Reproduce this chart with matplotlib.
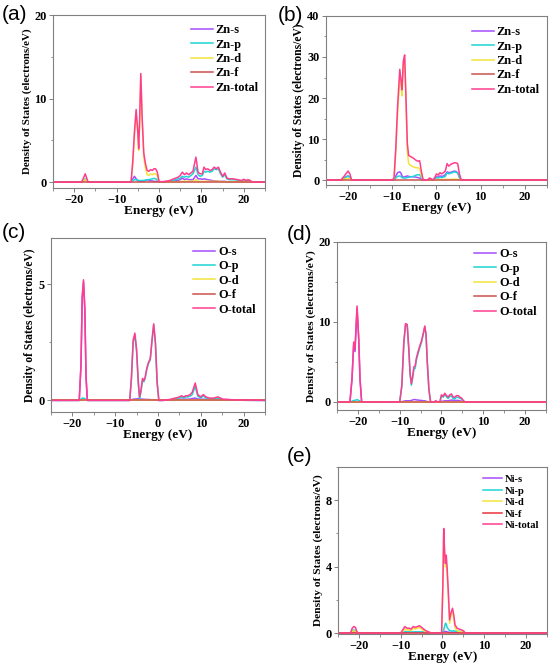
import matplotlib
matplotlib.use("Agg")
import matplotlib.pyplot as plt
from matplotlib.ticker import MultipleLocator

# ---------------- data ----------------
# (a) Zn
E_a = [-25, -18.3, -17.8, -17.4, -17.0, -16.7, -6.6, -6.2, -5.8, -5.4, -5.0, -4.8, -4.6, -4.3, -4.0, -3.6,
       -3.2, -2.8, -2.4, -2.0, -1.6, -1.2, -0.8, -0.4, 0.0, 0.5, 1.5, 2.5, 3.5, 4.0, 4.5, 5.0, 5.5, 6.0,
       6.5, 7.0, 7.5, 8.0, 8.7, 9.2, 9.7, 10.2, 10.6, 11.0, 11.5, 12.0, 12.5, 13.0, 13.5, 14.0, 14.5, 15.0,
       15.5, 16.0, 16.5, 17.5, 18.5, 19.5, 20.0, 20.5, 21.0, 21.5, 22.0, 25]
a_total = [0, 0, 0.5, 1.0, 0.4, 0, 0, 2.5, 6.0, 8.7, 6.0, 4.0, 7.0, 13.0, 8.0, 3.5,
           2.2, 1.4, 1.3, 1.5, 1.4, 1.6, 1.6, 1.2, 0.1, 0.05, 0.1, 0.2, 0.4, 0.5, 0.6, 0.8, 1.2, 0.9,
           1.1, 0.9, 1.1, 1.3, 3.0, 1.2, 1.0, 1.0, 1.8, 1.5, 1.6, 1.4, 1.5, 1.8, 1.6, 1.8, 1.2, 0.7,
           1.1, 0.5, 0.4, 0.4, 0.3, 0.2, 0.35, 0.2, 0.3, 0.2, 0.0, 0]
a_d = [0, 0, 0.15, 0.3, 0.1, 0, 0, 2.0, 5.5, 8.3, 5.7, 3.8, 6.7, 12.7, 7.6, 3.0,
       1.7, 0.9, 0.8, 1.0, 0.9, 1.0, 1.0, 0.7, 0.05, 0.02, 0.03, 0.05, 0.05, 0.05, 0.05, 0.1, 0.1, 0.1,
       0.1, 0.1, 0.1, 0.1, 0.3, 0.1, 0.1, 0.1, 0.1, 0.1, 0.1, 0.1, 0.1, 0.1, 0.1, 0.1, 0.1, 0.05,
       0.05, 0.05, 0.05, 0.05, 0.05, 0.05, 0.05, 0.05, 0.05, 0.05, 0.0, 0]
a_p = [0, 0, 0.2, 0.4, 0.15, 0, 0, 0.2, 0.3, 0.3, 0.25, 0.2, 0.2, 0.2, 0.2, 0.2,
       0.25, 0.3, 0.3, 0.35, 0.4, 0.45, 0.4, 0.3, 0.0, 0.02, 0.05, 0.1, 0.25, 0.3, 0.4, 0.5, 0.7, 0.6,
       0.7, 0.6, 0.8, 1.0, 1.8, 0.9, 0.7, 0.8, 1.3, 1.2, 1.3, 1.2, 1.3, 1.6, 1.5, 1.6, 1.0, 0.6,
       0.9, 0.4, 0.3, 0.3, 0.25, 0.15, 0.3, 0.15, 0.25, 0.15, 0.0, 0]
a_s = [0, 0, 0.12, 0.25, 0.1, 0, 0, 0.4, 0.7, 0.4, 0.15, 0.1, 0.1, 0.1, 0.1, 0.1,
       0.2, 0.3, 0.2, 0.15, 0.15, 0.1, 0.1, 0.1, 0.0, 0.02, 0.05, 0.1, 0.15, 0.2, 0.2, 0.3, 0.5, 0.3,
       0.4, 0.3, 0.3, 0.3, 0.8, 0.4, 0.4, 0.35, 0.4, 0.35, 0.3, 0.25, 0.2, 0.15, 0.15, 0.1, 0.1, 0.1,
       0.1, 0.05, 0.05, 0.05, 0.05, 0.05, 0.05, 0.05, 0.05, 0.05, 0.0, 0]
a_f = [0] * len(E_a)

# (b) Zn
E_b = [-25, -21.6, -21.0, -20.5, -20.0, -19.6, -19.2, -10.0, -9.6, -9.2, -8.8, -8.3, -8.0, -7.8, -7.5, -7.2,
       -6.9, -6.6, -6.3, -5.8, -5.2, -4.6, -4.2, -3.8, -3.4, -3.0, -2.0, -1.6, -1.2, -0.8, -0.4, 0.0,
       0.4, 0.8, 1.2, 1.6, 2.0, 2.4, 2.8, 3.2, 3.6, 4.0, 4.4, 4.8, 5.2, 5.6, 25]
b_total = [0, 0, 0.8, 1.5, 2.2, 1.5, 0, 0, 0.5, 8, 18, 27, 24, 22, 29, 30.5,
           20, 9, 6, 5.7, 5.3, 4.8, 4.6, 4.7, 2, 0, 0, 0.5, 0.3, 0, 0.6, 1.5,
           1.2, 1.8, 1.5, 1.8, 2.2, 4.0, 3.4, 3.8, 4.0, 4.2, 4.2, 4.0, 1.5, 0, 0]
b_d = [0, 0, 0.2, 0.3, 0.4, 0.3, 0, 0, 0.3, 7, 16, 25, 22.5, 20.5, 28, 29.5,
       19, 7, 4, 3.5, 3.2, 3.0, 3.0, 2.8, 1.0, 0, 0, 0.05, 0.05, 0, 0.05, 0.1,
       0.1, 0.1, 0.1, 0.1, 0.15, 0.2, 0.15, 0.15, 0.2, 0.2, 0.2, 0.2, 0.1, 0, 0]
b_s = [0, 0, 0.4, 0.8, 1.0, 0.7, 0, 0, 0.1, 1.0, 1.8, 2.0, 1.6, 1.0, 0.7, 0.8,
       0.9, 1.0, 0.9, 0.8, 0.8, 0.7, 0.6, 0.5, 0.2, 0, 0, 0.3, 0.2, 0, 0.3, 0.8,
       0.7, 1.0, 0.9, 1.0, 1.3, 2.0, 1.8, 1.9, 2.0, 2.2, 2.1, 1.8, 0.7, 0, 0]
b_p = [0, 0, 0.4, 0.7, 1.0, 0.6, 0, 0, 0.1, 0.5, 0.9, 1.0, 0.8, 0.6, 0.5, 0.5,
       0.5, 0.6, 0.7, 0.8, 0.9, 1.2, 1.3, 1.3, 0.6, 0, 0, 0.2, 0.1, 0, 0.2, 0.6,
       0.5, 0.7, 0.6, 0.7, 0.9, 1.8, 1.5, 1.7, 1.8, 2.0, 1.9, 1.7, 0.6, 0, 0]
b_f = [0] * len(E_b)

# (c) O
E_c = [-25, -18.4, -18.0, -17.7, -17.4, -17.1, -16.8, -16.5, -6.6, -6.2, -5.8, -5.4, -5.0, -4.6, -4.3,
       -4.0, -3.6, -3.3, -3.0, -2.6, -2.2, -1.8, -1.4, -1.0, -0.6, -0.2, 0.2, 1.0, 2.0, 3.0, 4.0, 4.5,
       5.0, 5.5, 6.0, 6.5, 7.0, 7.5, 8.0, 8.7, 9.3, 10.0, 10.6, 11.2, 12.0, 13.0, 14.0, 14.6, 15.2,
       16.0, 17.0, 19.0, 21.0, 23.0, 25]
c_total = [0, 0, 1.5, 4.5, 5.2, 4.0, 1.0, 0, 0, 1.0, 2.6, 2.9, 2.2, 0.8, 0.15,
           0.4, 0.95, 0.85, 1.0, 1.4, 1.65, 1.8, 2.6, 3.3, 2.5, 0.8, 0.0, 0.0, 0.02, 0.05, 0.1, 0.12,
           0.15, 0.2, 0.15, 0.2, 0.2, 0.25, 0.35, 0.75, 0.25, 0.15, 0.25, 0.15, 0.1, 0.1, 0.15, 0.1, 0.05,
           0.05, 0.03, 0.02, 0.02, 0.01, 0]
c_p = [0, 0, 0.05, 0.1, 0.1, 0.08, 0.02, 0, 0, 0.95, 2.5, 2.8, 2.1, 0.7, 0.05,
       0.35, 0.9, 0.8, 0.95, 1.35, 1.6, 1.75, 2.55, 3.25, 2.45, 0.75, 0.0, 0.0, 0.01, 0.03, 0.06, 0.08,
       0.1, 0.15, 0.1, 0.15, 0.15, 0.18, 0.25, 0.6, 0.18, 0.1, 0.2, 0.1, 0.07, 0.07, 0.1, 0.07, 0.03,
       0.03, 0.02, 0.01, 0.01, 0.0, 0]
c_s = [0, 0, 1.45, 4.4, 5.1, 3.9, 0.95, 0, 0, 0.03, 0.05, 0.06, 0.06, 0.08, 0.08,
       0.06, 0.05, 0.05, 0.04, 0.04, 0.04, 0.03, 0.03, 0.03, 0.02, 0.01, 0, 0, 0.01, 0.02, 0.03, 0.04,
       0.05, 0.05, 0.05, 0.05, 0.05, 0.06, 0.08, 0.1, 0.06, 0.05, 0.05, 0.04, 0.03, 0.03, 0.04, 0.03, 0.02,
       0.02, 0.01, 0.01, 0.0, 0.0, 0]
c_d = [0] * len(E_c)
c_f = [0] * len(E_c)

# (d) O
E_d = [-25, -21.9, -21.4, -21.0, -20.7, -20.2, -19.8, -19.5, -19.1, -10.0, -9.5, -9.0, -8.6, -8.2, -7.8,
       -7.5, -7.2, -6.9, -6.6, -6.3, -6.0, -5.6, -5.2, -4.8, -4.4, -4.0, -3.7, -3.4, -3.0, -2.6, -1.8,
       -1.4, -1.0, -0.4, 0.0, 0.4, 0.8, 1.2, 1.6, 2.0, 2.4, 2.8, 3.2, 3.6, 4.0, 4.4, 4.8, 5.2, 5.6, 25]
d_total = [0, 0, 3, 7.5, 6.5, 12, 8, 3, 0, 0, 2, 7.5, 9.8, 9.7, 6.5,
           3.5, 2.3, 3.2, 4.4, 4.5, 5.5, 6.3, 7.0, 7.6, 8.5, 9.5, 8.5, 5, 1.5, 0, 0,
           0.15, 0.05, 0.0, 0.9, 0.7, 1.1, 0.8, 0.6, 0.9, 1.0, 0.6, 0.6, 0.8, 0.8, 0.6, 0.5, 0.2, 0, 0]
d_s = [0, 0, 2.9, 7.3, 6.3, 11.7, 7.8, 2.9, 0, 0, 0.05, 0.1, 0.15, 0.15, 0.15,
       0.15, 0.2, 0.25, 0.3, 0.3, 0.25, 0.25, 0.2, 0.2, 0.15, 0.15, 0.1, 0.05, 0.02, 0, 0,
       0.05, 0.02, 0, 0.1, 0.1, 0.15, 0.15, 0.15, 0.2, 0.25, 0.2, 0.2, 0.2, 0.2, 0.15, 0.1, 0.05, 0, 0]
d_p = [0, 0, 0.1, 0.2, 0.2, 0.3, 0.2, 0.1, 0, 0, 1.95, 7.4, 9.65, 9.55, 6.35,
       3.35, 2.1, 2.95, 4.1, 4.2, 5.25, 6.05, 6.8, 7.4, 8.35, 9.35, 8.4, 4.95, 1.48, 0, 0,
       0.1, 0.03, 0, 0.8, 0.6, 0.95, 0.65, 0.45, 0.7, 0.75, 0.4, 0.4, 0.6, 0.6, 0.45, 0.4, 0.15, 0, 0]
d_d = [0] * len(E_d)
d_f = [0] * len(E_d)

# (e) Ni
E_e = [-25, -22.0, -21.6, -21.2, -20.8, -20.5, -20.1, -10.0, -9.5, -9.0, -8.5, -8.0, -7.5, -7.0, -6.5,
       -6.0, -5.5, -5.0, -4.5, -4.0, -3.5, -3.0, -2.5, -0.6, -0.2, 0.1, 0.3, 0.5, 0.7, 0.9, 1.1,
       1.4, 1.7, 2.0, 2.4, 2.7, 3.0, 3.5, 4.0, 4.5, 5.0, 5.5, 25]
e_total = [0, 0, 0.3, 0.4, 0.35, 0.1, 0, 0, 0.2, 0.4, 0.3, 0.3, 0.25, 0.4, 0.35,
           0.4, 0.45, 0.35, 0.25, 0.15, 0.1, 0.05, 0, 0, 0.05, 3.0, 6.3, 5.0, 4.2, 4.7, 4.0,
           2.5, 0.8, 1.2, 1.5, 1.1, 0.5, 0.3, 0.25, 0.2, 0.15, 0, 0]
e_d = [0, 0, 0.1, 0.15, 0.1, 0.03, 0, 0, 0.1, 0.25, 0.2, 0.2, 0.15, 0.3, 0.25,
       0.3, 0.35, 0.25, 0.15, 0.1, 0.05, 0.02, 0, 0, 0.03, 2.8, 6.0, 4.7, 4.0, 4.1, 3.6,
       2.2, 0.6, 1.0, 1.35, 0.9, 0.35, 0.15, 0.1, 0.08, 0.05, 0, 0]
e_p = [0, 0, 0.15, 0.2, 0.15, 0.05, 0, 0, 0.05, 0.1, 0.08, 0.08, 0.08, 0.08, 0.08,
       0.08, 0.08, 0.08, 0.08, 0.04, 0.03, 0.02, 0, 0, 0.01, 0.1, 0.2, 0.4, 0.6, 0.55, 0.35,
       0.25, 0.15, 0.15, 0.12, 0.15, 0.12, 0.12, 0.12, 0.1, 0.08, 0, 0]
e_s = [0, 0, 0.05, 0.08, 0.05, 0.02, 0, 0, 0.02, 0.05, 0.05, 0.05, 0.05, 0.05, 0.05,
       0.05, 0.05, 0.05, 0.04, 0.03, 0.02, 0.01, 0, 0, 0.01, 0.05, 0.1, 0.1, 0.1, 0.1, 0.08,
       0.06, 0.05, 0.05, 0.05, 0.05, 0.05, 0.05, 0.05, 0.04, 0.03, 0, 0]
e_f = [0] * len(E_e)

orbitals = ["s", "p", "d", "f", "total"]
x_ticks = [-20, -10, 0, 10, 20]

# ---------------- style ----------------
SERIF = ["Liberation Serif", "DejaVu Serif"]
colors = {"s": "#A64DFF", "p": "#1FD5D5", "d": "#F2E33C", "f": "#C9524E", "total": "#FF3D8E"}

fig = plt.figure(figsize=(5.5, 6.63), dpi=100)

panels = [
    # label, element, E, series, rect, ylim, yticks, legend bbox, label pos, legend fs, ylabel fs
    ("(a)", "Zn", E_a, [a_s, a_p, a_d, a_f, a_total], [0.0964, 0.7164, 0.3855, 0.2609], (-0.7, 20), [0, 10, 20],
     (1.0, 0.983), (0.003, 0.978), 8.8, 7.8),
    ("(b)", "Zn", E_b, [b_s, b_p, b_d, b_f, b_total], [0.5927, 0.7210, 0.4018, 0.2549], (-1.2, 40), [0, 10, 20, 30, 40],
     (0.995, 0.976), (0.505, 0.976), 8.8, 8.4),
    ("(c)", "O", E_c, [c_s, c_p, c_d, c_f, c_total], [0.0927, 0.3786, 0.3891, 0.2624], (-0.5, 7.0), [0, 5],
     (0.986, 0.99), (0.003, 0.650), 8.8, 8.4),
    ("(d)", "O", E_d, [d_s, d_p, d_d, d_f, d_total], [0.6127, 0.3816, 0.3800, 0.2534], (-1.0, 20), [0, 10, 20],
     (0.986, 1.0), (0.522, 0.646), 8.8, 8.2),
    ("(e)", "Ni", E_e, [e_s, e_p, e_d, e_f, e_total], [0.6145, 0.0437, 0.3800, 0.2519], (-0.05, 10), [0, 4, 8],
     (0.99, 0.986), (0.522, 0.311), 7.6, 8.2),
]

for (lab, el, E, series, rect, ylim, yticks, lbbox, lpos, lfs, yfs) in panels:
    ax = fig.add_axes(rect)
    for orb, vals in zip(orbitals, series):
        c = colors[orb]
        if el == "Ni" and orb == "f":
            c = "#E8343C"
        ax.plot(E, vals, color=c, lw=1.1, label=f"{el}-{orb}")
    ax.set_xlim(-25, 25)
    ax.set_ylim(*ylim)
    ax.set_xticks(x_ticks)
    ax.xaxis.set_minor_locator(MultipleLocator(5))
    ax.set_yticks(yticks)
    ax.yaxis.set_minor_locator(MultipleLocator((yticks[1] - yticks[0]) / 2))
    for sp in ax.spines.values():
        sp.set_color("#808080")
        sp.set_linewidth(0.8)
    ax.tick_params(which="major", direction="out", length=3, width=0.7, color="#808080",
                   labelsize=8.8, pad=1.5)
    ax.tick_params(which="minor", direction="out", length=1.8, width=0.6, color="#808080")
    for t in ax.get_xticklabels() + ax.get_yticklabels():
        t.set_fontfamily(SERIF)
        t.set_fontweight("bold")
    ax.set_xlabel("Energy (eV)", fontfamily=SERIF, fontweight="bold", fontsize=9.5, labelpad=-1.0)
    ax.set_ylabel("Density of States (electrons/eV)", fontfamily=SERIF, fontweight="bold",
                  fontsize=yfs, labelpad=1.5)
    leg = ax.legend(loc="upper right", bbox_to_anchor=lbbox, frameon=False,
                    prop={"family": SERIF, "weight": "bold", "size": lfs},
                    handlelength=1.8, handletextpad=0.25, labelspacing=0.2, borderaxespad=0.1)
    fig.text(lpos[0], lpos[1], lab, fontsize=15, fontfamily=["Liberation Sans", "DejaVu Sans"],
             ha="left", va="center")

fig.savefig("out.png", dpi=100)
